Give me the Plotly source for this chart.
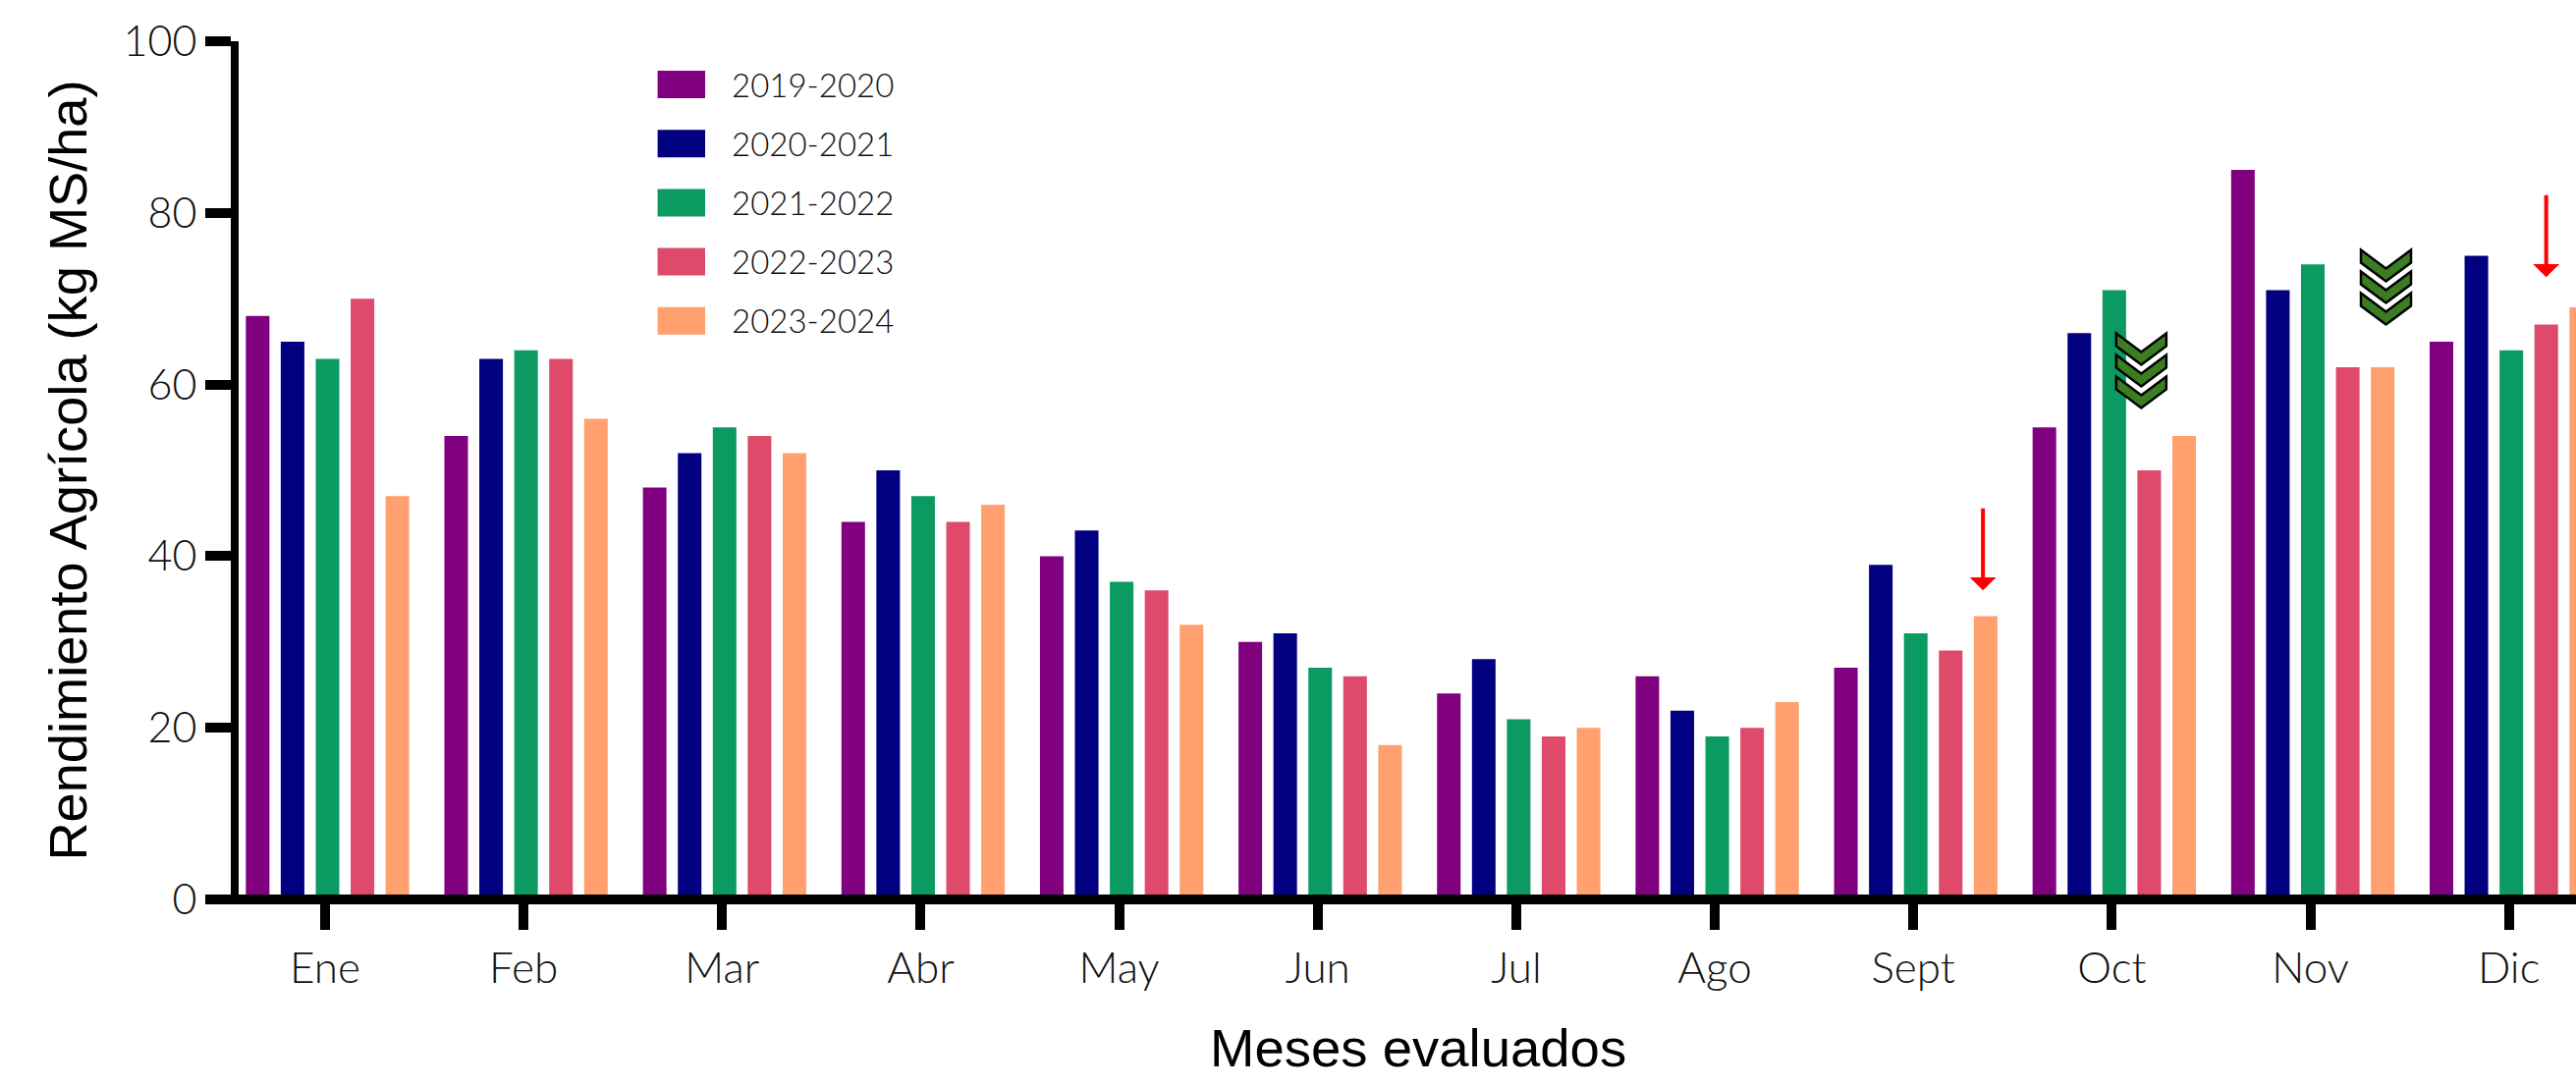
import plotly.graph_objects as go

months = ["Ene", "Feb", "Mar", "Abr", "May", "Jun", "Jul", "Ago", "Sept", "Oct", "Nov", "Dic"]
month_pos = list(range(12))
s_2019 = [68, 54, 48, 44, 40, 30, 24, 26, 27, 55, 85, 65]
s_2020 = [65, 63, 52, 50, 43, 31, 28, 22, 39, 66, 71, 75]
s_2021 = [63, 64, 55, 47, 37, 27, 21, 19, 31, 71, 74, 64]
s_2022 = [70, 63, 54, 44, 36, 26, 19, 20, 29, 50, 62, 67]
s_2023 = [47, 56, 52, 46, 32, 18, 20, 23, 33, 54, 62, 69]
series_names = ["2019-2020", "2020-2021", "2021-2022", "2022-2023", "2023-2024"]
series_values = [s_2019, s_2020, s_2021, s_2022, s_2023]
colors = ["#800080", "#000080", "#0A9A62", "#DF4A6B", "#FFA06E"]
y_ticks = [0, 20, 40, 60, 80, 100]

W, H = 2623, 1106
L, R, T, B = 243, 2623, 42, 916
FONT = "Lato Light, Lato, sans-serif"
TITLE_FONT = "Liberation Sans, Arial, sans-serif"
TEXT = "#111111"
unit = 202.15
x0_px = 331
bar_shift = 2.5 / unit


def px(x):
    return (x - L) / (R - L)


def py(y):
    return (B - y) / (B - T)


fig = go.Figure()
for name, vals, col in zip(series_names, series_values, colors):
    fig.add_trace(go.Bar(name=name, x=[p + bar_shift for p in month_pos], y=vals,
                         marker=dict(color=col, line=dict(width=0)), showlegend=False))

shapes = []
annotations = []

# x axis line, centred on zero and over the bars (paper refs so it is not clipped)
shapes.append(dict(type="line", xref="paper", yref="paper", x0=px(234.7), x1=1, y0=0, y1=0,
                   line=dict(color="black", width=10), layer="above"))

# legend
for i, (name, col) in enumerate(zip(series_names, colors)):
    top = 72 + 60.2 * i
    shapes.append(dict(type="rect", xref="paper", yref="paper", x0=px(669.6), x1=px(718), y0=py(top), y1=py(top + 28),
                       fillcolor=col, line=dict(width=0), layer="above"))
    annotations.append(dict(text=name, xref="paper", yref="paper", x=px(743), y=py(top + 13.5), xanchor="left",
                            yanchor="middle", showarrow=False, font=dict(family=FONT, size=33, color=TEXT)))

# x axis title
annotations.append(dict(text="Meses evaluados", xref="paper", yref="paper", x=px(1444), y=py(1067), xanchor="center",
                        yanchor="middle", showarrow=False, font=dict(family=TITLE_FONT, size=54.5, color="black")))

# chevrons
chevron_groups = [(9, 30, 66.08), (10, 77, 75.8)]
for month, dx, val in chevron_groups:
    for k in range(3):
        o = -22 * k - 1
        path = (f"M -25.5 {o} L 0 {o-19} L 25.5 {o} L 25.5 {o-13} L 0 {o-32} L -25.5 {o-13} Z")
        shapes.append(dict(type="path", xsizemode="pixel", ysizemode="pixel", xref="x", yref="y",
                           xanchor=month + dx / unit, yanchor=val, path=path, fillcolor="#3B7D23",
                           line=dict(color="black", width=2.5), layer="above"))

# red arrows
arrow_tips = [(8.351, 36.0), (11 + 38 / unit, 72.5)]
for x, y in arrow_tips:
    annotations.append(dict(x=x, y=y, xref="x", yref="y", ax=0, ay=-85, axref="pixel", ayref="pixel", text="",
                            showarrow=True, arrowhead=1, arrowsize=1.12, arrowwidth=4, arrowcolor="#FF0000"))

fig.update_layout(
    width=W, height=H, barmode="group", bargap=0.12, bargroupgap=0.325,
    paper_bgcolor="white", plot_bgcolor="white",
    margin=dict(l=L, r=W - R, t=T, b=H - B, autoexpand=False),
    font=dict(family=FONT, color=TEXT),
    shapes=shapes, annotations=annotations,
    xaxis=dict(range=[(L - x0_px) / unit, (R - x0_px) / unit], tickmode="array", tickvals=month_pos, ticktext=months,
               ticks="outside", ticklen=29.5, tickwidth=10, tickcolor="black", showline=False, showgrid=False,
               zeroline=False, tickfont=dict(family=FONT, size=44, color=TEXT), ticklabelstandoff=2),
    yaxis=dict(range=[0, 100], tickmode="array", tickvals=y_ticks, ticks="outside", ticklen=26, tickwidth=10,
               tickcolor="black", showline=True, linewidth=8, linecolor="black", showgrid=False, zeroline=False,
               tickfont=dict(family=FONT, size=43, color=TEXT),
               title=dict(text="Rendimiento Agrícola (kg MS/ha)", font=dict(family=TITLE_FONT, size=54.2, color="black"),
                          standoff=23)),
)

fig.write_html("out.html", config=dict(displayModeBar=False),
               post_script="document.body.style.margin='0';document.body.style.overflow='hidden';")
